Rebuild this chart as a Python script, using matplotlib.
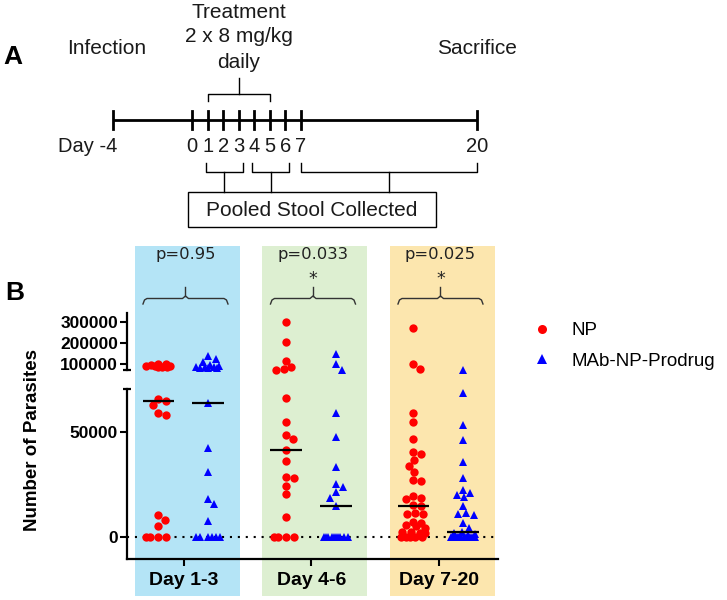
import numpy as np
import matplotlib
matplotlib.use("Agg")
import matplotlib.pyplot as plt
from matplotlib.lines import Line2D
from matplotlib.patches import Rectangle
from matplotlib.ticker import FormatStrFormatter

plt.rcParams["font.family"] = ["Liberation Sans", "DejaVu Sans"]

# ---------------- data ----------------
# Panel A: study timeline
timeline_days = [-4, 0, 1, 2, 3, 4, 5, 6, 7, 20]
timeline_labels = ["Day -4", "0", "1", "2", "3", "4", "5", "6", "7", "20"]
treatment_days = (1, 5)
stool_windows = [(1, 3), (4, 6), (7, 20)]

# Panel B: parasites per mouse, per collection window
groups = ["Day 1-3", "Day 4-6", "Day 7-20"]
p_values = ["p=0.95", "p=0.033", "p=0.025"]
stars = ["", "*", "*"]

np_day1_3 = [100000, 97000, 93000, 90000, 86000, 84000, 87000, 92000, 98000,
             65700, 64800, 62900, 58900, 58100, 10500, 8100, 5200, 0, 0, 0, 0]
mab_day1_3 = [138000, 123000, 111000, 95000, 90000, 86000, 83000, 80000, 82000, 85000, 88000,
              63800, 42400, 31000, 18100, 15700, 7600, 0, 0, 0, 0, 0, 0]

np_day4_6 = [300000, 205000, 115000, 87000, 77000, 72000,
             66000, 54900, 48600, 46700, 41400, 36200, 28700, 27900, 24400, 20500, 9400,
             0, 0, 0, 0]
mab_day4_6 = [145000, 99000, 74000,
              59200, 47800, 33500, 25100, 23700, 21300, 18700, 14900,
              0, 0, 0, 0, 0, 0, 0, 0, 0, 0]

np_day7_20 = [271000, 100000, 76000,
              58900, 54900, 46700, 40500, 39400, 36700, 33800, 31100, 27100, 26800,
              19500, 18700, 18100, 15000, 14800,
              11300, 11000, 10800, 7300, 6700, 5600, 5200, 4500, 2500, 2400, 2000, 1800,
              0, 0, 0, 0, 0]
mab_day7_20 = [72000,
               68400, 53300, 46200, 35900, 28200, 22400, 20800, 20000, 19200, 14800,
               11300, 11000, 10300, 6500, 4100, 2500, 2000, 1500, 800,
               0, 0, 0, 0, 0, 0, 0, 0, 0, 0, 0, 0, 0]

np_series = [np_day1_3, np_day4_6, np_day7_20]
mab_series = [mab_day1_3, mab_day4_6, mab_day7_20]
bg_colors = ["#b4e4f6", "#ddefd1", "#fce6ae"]

W, H = 727, 600
fig = plt.figure(figsize=(W / 100, H / 100), dpi=100)


def fig_rect(x0, y0, x1, y1):
    # pixel box (top-left origin) -> figure fraction rect
    return [x0 / W, 1 - y1 / H, (x1 - x0) / W, (y1 - y0) / H]


# overlay in pixel coordinates for the diagram, labels and backgrounds
ov = fig.add_axes([0, 0, 1, 1], zorder=0)
ov.set_xlim(0, W)
ov.set_ylim(H, 0)
ov.axis("off")

txt = "#1a1a1a"

# ---------------- Panel A ----------------
day_anchor = [-4, 0, 7, 20]
px_anchor = [113, 192, 301, 477]


def day_px(d):
    return np.interp(d, day_anchor, px_anchor)


line_y = 120
ov.plot([day_px(-4), day_px(20)], [line_y, line_y], color="k", lw=2, solid_capstyle="butt")
for d, lab in zip(timeline_days, timeline_labels):
    x = day_px(d)
    ov.plot([x, x], [line_y - 9, line_y + 9], color="k", lw=2)
    if lab.startswith("Day"):
        ov.text(x + 4, 146, lab, ha="right", va="center", fontsize=14.5, color=txt)
    else:
        ov.text(x, 146, lab, ha="center", va="center", fontsize=14.5, color=txt)

# treatment brace (above)
x0, x1 = day_px(treatment_days[0]), day_px(treatment_days[1])
xc = (x0 + x1) / 2
ov.plot([x0, x0, x1, x1], [101, 94, 94, 101], color="k", lw=1)
ov.plot([xc, xc], [94, 78], color="k", lw=1)
for i, s in enumerate(["Treatment", "2 x 8 mg/kg", "daily"]):
    ov.text(xc, 12 + 25 * i, s, ha="center", va="center", fontsize=15, color=txt)

ov.text(day_px(-4) - 6, 48, "Infection", ha="center", va="center", fontsize=15, color=txt)
ov.text(day_px(20), 48, "Sacrifice", ha="center", va="center", fontsize=15, color=txt)
ov.text(13, 57, "A", ha="center", va="center", fontsize=19, weight="bold", color="k")

# stool collection braces (below)
for a, b in stool_windows:
    xa = day_px(a) - (2 if b < 20 else 0)
    xb = day_px(b) + (4 if b < 20 else 0)
    xm = (xa + xb) / 2
    ov.plot([xa, xa, xb, xb], [163, 172, 172, 163], color="k", lw=1)
    ov.plot([xm, xm], [172, 192], color="k", lw=1)
ov.add_patch(Rectangle((188, 192), 248, 35, fill=False, ec="k", lw=1))
ov.text(312, 210, "Pooled Stool Collected", ha="center", va="center", fontsize=15, color=txt)

# ---------------- Panel B ----------------
ax_top = fig.add_axes(fig_rect(127, 312.7, 498, 370.4), zorder=2)
ax_bot = fig.add_axes(fig_rect(127, 389, 498, 559.3), zorder=2)
for ax in (ax_top, ax_bot):
    ax.set_facecolor("none")
    ax.set_xlim(-0.447, 2.463)
    for sp in ("top", "right"):
        ax.spines[sp].set_visible(False)
    ax.spines["left"].set_linewidth(1.6)
    ax.tick_params(axis="y", length=5, width=1.5, pad=1.5, labelsize=12.5)
    ax.yaxis.set_major_formatter(FormatStrFormatter("%d"))

ax_top.set_ylim(70000, 342000)
ax_top.set_yticks([100000, 200000, 300000])
ax_top.spines["bottom"].set_visible(False)
ax_top.set_xticks([])

ax_bot.set_ylim(-10620, 70476)
ax_bot.set_yticks([0, 50000])
ax_bot.spines["bottom"].set_linewidth(1.6)
ax_bot.set_xticks(range(len(groups)))
ax_bot.set_xticklabels(groups)
ax_bot.tick_params(axis="x", length=5, width=1.5, pad=4.5, labelsize=14)
for ax in (ax_top, ax_bot):
    for lab in ax.get_yticklabels() + ax.get_xticklabels():
        lab.set_fontweight("bold")

# axis break marks
ax_top.plot([0], [0], marker="_", ms=6, mew=1.6, color="k", transform=ax_top.transAxes, clip_on=False)
ax_bot.plot([0], [1], marker="_", ms=6, mew=1.6, color="k", transform=ax_bot.transAxes, clip_on=False)

ax_bot.axhline(0, color="k", lw=1.5, ls=(0, (1, 2.8)), zorder=1)

# group backgrounds, brackets, p-values (pixel overlay)
gx = ax_bot.transData.transform([(g, 0) for g in range(len(groups))])[:, 0]
for g, x in enumerate(gx):
    ov.add_patch(Rectangle((x - 49, 246), 105, 350, color=bg_colors[g], lw=0, zorder=0))
    xl, xr = x - 41, x + 44
    xm = (xl + xr) / 2
    ov.plot([xl, xl + 1.5, xl + 4, xm - 3, xm, xm + 3, xr - 4, xr - 1.5, xr],
            [304, 300, 298.5, 298.5, 296, 298.5, 298.5, 300, 304], color="#333333", lw=1)
    ov.plot([xm, xm], [296, 287], color="#333333", lw=1)
    ov.text(xm, 255, p_values[g], ha="center", va="center", fontsize=11.8,
            family="DejaVu Sans", color="#222222")
    if stars[g]:
        ov.text(xm, 279, stars[g], ha="center", va="center", fontsize=12.5,
                family="DejaVu Sans", color="#222222")

ov.text(15, 293, "B", ha="center", va="center", fontsize=19, weight="bold", color="k")
ov.text(33, 440, "Number of Parasites", ha="center", va="center", rotation=90,
        fontsize=13.5, weight="bold", color="k")


def swarm(ypx, d, max_off):
    # simple greedy beeswarm in pixel space
    n = len(ypx)
    xs = np.zeros(n)
    placed = []
    for i in np.argsort(-ypx, kind="stable"):
        y = ypx[i]
        cands = [0.0]
        for j in placed:
            dy = y - ypx[j]
            if abs(dy) < d:
                dx = np.sqrt(d * d - dy * dy)
                cands += [xs[j] + dx, xs[j] - dx]
        cands.sort(key=abs)
        best = None
        for c in cands:
            if abs(c) > max_off + 1e-9:
                continue
            if all((c - xs[j]) ** 2 + (y - ypx[j]) ** 2 >= d * d - 1e-6 for j in placed):
                best = c
                break
        if best is None:
            grid = np.linspace(-max_off, max_off, 41)
            score = [min(np.hypot(gv - xs[j], y - ypx[j]) for j in placed) for gv in grid]
            best = grid[int(np.argmax(score))]
        xs[i] = best
        placed.append(i)
    return xs


ppu = ax_bot.transData.transform((1, 0))[0] - ax_bot.transData.transform((0, 0))[0]
split = ax_bot.get_ylim()[1]
styles = [dict(marker="o", color="#ff0000", side=-0.2),
          dict(marker="^", color="#0000ff", side=0.19)]

for g in range(len(groups)):
    for vals, st in zip([np_series[g], mab_series[g]], styles):
        vals = np.asarray(vals, dtype=float)
        upper = vals > split
        zeros = np.zeros_like(vals)
        y_up = ax_top.transData.transform(np.column_stack([zeros, vals]))[:, 1]
        y_lo = ax_bot.transData.transform(np.column_stack([zeros, vals]))[:, 1]
        ypx = np.where(upper, y_up, y_lo)
        x = g + st["side"] + swarm(ypx, 8.0, 12.0) / ppu
        kw = dict(ls="none", marker=st["marker"], ms=6, color=st["color"], mew=0,
                  clip_on=False, zorder=3)
        ax_top.plot(x[upper], vals[upper], **kw)
        ax_bot.plot(x[~upper], vals[~upper], **kw)
        c = g + st["side"]
        ax_bot.hlines(np.median(vals), c - 0.125, c + 0.125, color="k", lw=1.6, zorder=4)

handles = [Line2D([], [], ls="none", marker="o", ms=6.5, color="#ff0000", mew=0),
           Line2D([], [], ls="none", marker="^", ms=6.5, color="#0000ff", mew=0)]
fig.legend(handles, ["NP", "MAb-NP-Prodrug"], loc="center left",
           bbox_to_anchor=(532.5 / W, 1 - 346 / H), frameon=False, fontsize=13.5,
           handlelength=1.0, handletextpad=1.1, labelspacing=0.7, borderpad=0,
           borderaxespad=0)

fig.savefig("out.png", dpi=100)
